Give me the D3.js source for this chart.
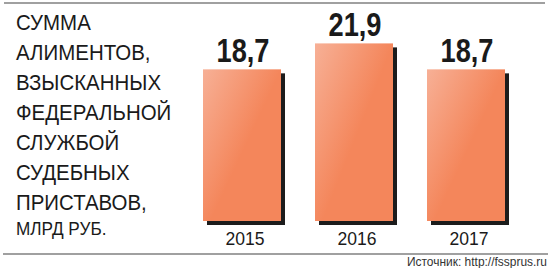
<!DOCTYPE html>
<html>
<head>
<meta charset="utf-8">
<script src="https://cdn.jsdelivr.net/npm/d3@7"></script>
<style>
  html, body { margin: 0; padding: 0; background: #fff; }
  svg { display: block; }
  text { font-family: "Liberation Sans Narrow", "Liberation Sans", Arial, sans-serif; }
</style>
</head>
<body>
<div id="chart"></div>
<script>
// Сумма алиментов, взысканных ФССП, млрд руб.
const years = ["2015", "2016", "2017"];
const values = [18.7, 21.9, 18.7];
const valueLabels = ["18,7", "21,9", "18,7"];
const titleLines = ["СУММА", "АЛИМЕНТОВ,", "ВЗЫСКАННЫХ", "ФЕДЕРАЛЬНОЙ", "СЛУЖБОЙ", "СУДЕБНЫХ", "ПРИСТАВОВ,"];
const unitLabel = "МЛРД РУБ.";
const sourceLabel = "Источник: http://fssprus.ru";

const width = 550;
const height = 268;

const svg = d3.select("#chart")
  .append("svg")
  .attr("width", width)
  .attr("height", height);

const defs = svg.append("defs");
const grad = defs.append("linearGradient")
  .attr("id", "barFill")
  .attr("x1", 0).attr("y1", 0)
  .attr("x2", 0.55).attr("y2", 0.5);
grad.append("stop").attr("offset", "0%").attr("stop-color", "#f7b096");
grad.append("stop").attr("offset", "100%").attr("stop-color", "#f4865b");

// frame lines
svg.append("line")
  .attr("x1", 4).attr("x2", 545)
  .attr("y1", 3).attr("y2", 3)
  .attr("stroke", "#a0a0a0")
  .attr("stroke-width", 2);

svg.append("line")
  .attr("x1", 3).attr("x2", 548)
  .attr("y1", 254).attr("y2", 254)
  .attr("stroke", "#a0a0a0")
  .attr("stroke-width", 2);

// title (condensed look via horizontal squeeze)
const title = svg.append("g");
title.selectAll("text.line")
  .data(titleLines)
  .enter().append("text")
  .attr("class", "line")
  .attr("transform", (d, i) => `translate(16,${29.5 + i * 30}) scale(0.93,1)`)
  .attr("font-size", "22px")
  .attr("fill", "#1a1a1a")
  .text(d => d);

title.append("text")
  .attr("transform", "translate(16,235) scale(0.93,1)")
  .attr("font-size", "18.5px")
  .attr("fill", "#1a1a1a")
  .text(unitLabel);

// scales
const x = d3.scaleBand()
  .domain(years)
  .range([186, 522])
  .paddingInner(0.3036)
  .paddingOuter(0.1518);

const y = d3.scaleLinear()
  .domain([0, 21.9])
  .range([221, 43.4]);

const data = years.map((yr, i) => ({ year: yr, value: values[i], label: valueLabels[i] }));

// shadows
svg.append("g")
  .selectAll("rect")
  .data(data)
  .enter().append("rect")
  .attr("x", d => x(d.year) + 4)
  .attr("y", d => y(d.value) + 4)
  .attr("width", x.bandwidth())
  .attr("height", d => y(0) - y(d.value))
  .attr("fill", "#1c1c1c");

// bars
svg.append("g")
  .selectAll("rect")
  .data(data)
  .enter().append("rect")
  .attr("x", d => x(d.year))
  .attr("y", d => y(d.value))
  .attr("width", x.bandwidth())
  .attr("height", d => y(0) - y(d.value))
  .attr("fill", "url(#barFill)");

// value labels
svg.append("g")
  .selectAll("text")
  .data(data)
  .enter().append("text")
  .attr("transform", d => `translate(${x(d.year) + x.bandwidth() / 2 + 1},${y(d.value) - 7}) scale(0.8,1)`)
  .attr("text-anchor", "middle")
  .attr("font-size", "34px")
  .attr("font-weight", "bold")
  .attr("fill", "#1a1a1a")
  .attr("stroke", "#fff")
  .attr("stroke-width", 2.5)
  .attr("paint-order", "stroke")
  .text(d => d.label);

// year labels
svg.append("g")
  .selectAll("text")
  .data(years)
  .enter().append("text")
  .attr("transform", d => `translate(${x(d) + x.bandwidth() / 2 + 3},245) scale(0.95,1)`)
  .attr("text-anchor", "middle")
  .attr("font-size", "18.5px")
  .attr("fill", "#1a1a1a")
  .text(d => d);

// source
svg.append("text")
  .attr("transform", "translate(547,266) scale(0.92,1)")
  .attr("text-anchor", "end")
  .attr("font-size", "13px")
  .attr("fill", "#333")
  .text(sourceLabel);
</script>
</body>
</html>
